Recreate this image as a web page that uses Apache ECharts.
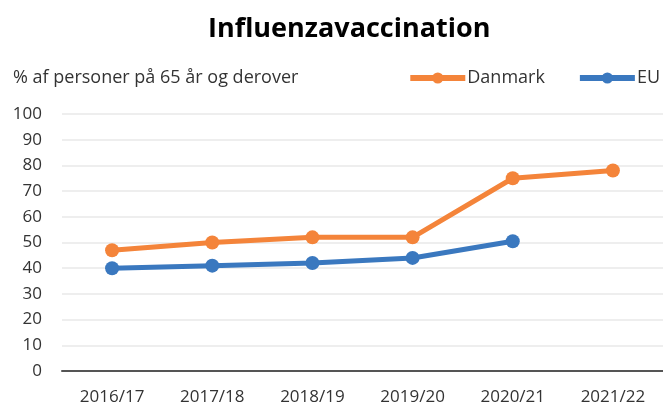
<!DOCTYPE html>
<html>
<head>
<meta charset="utf-8">
<script src="https://cdn.jsdelivr.net/npm/echarts@6/dist/echarts.min.js"></script>
<style>
  html, body { margin: 0; padding: 0; background: #fff; }
  #chart { width: 663px; height: 406px; }
</style>
</head>
<body>
<div id="chart"></div>
<script>
const seasons = ['2016/17', '2017/18', '2018/19', '2019/20', '2020/21', '2021/22'];
const danmark = [47, 50, 52, 52, 75, 78];
const eu = [40, 41, 42, 44, 50.5, null];
const yTicks = { min: 0, max: 100, interval: 10 };

const FONT = '"Open Sans"';

const chart = echarts.init(document.getElementById('chart'));

chart.setOption({
  animation: false,
  textStyle: { fontFamily: FONT },
  title: [
    {
      text: 'Influenzavaccination',
      left: 203,
      top: 11,
      textStyle: { fontFamily: FONT, fontSize: 27, fontWeight: 'bold', color: '#000' },
    },
    {
      text: '% af personer på 65 år og derover',
      left: 8,
      top: 64,
      textStyle: { fontFamily: FONT, fontSize: 18, fontWeight: 'normal', color: '#333' },
    },
  ],
  legend: {
    right: 3,
    top: 69,
    padding: 0,
    itemWidth: 55,
    itemHeight: 14,
    itemGap: 32,
    lineStyle: { width: 6 },
    textStyle: { fontFamily: FONT, fontSize: 18, color: '#333', padding: [0, 0, 0, -3] },
    data: ['Danmark', 'EU'],
  },
  grid: {
    left: 62,
    right: 0,
    top: 114,
    bottom: 35,
    containLabel: false,
  },
  xAxis: {
    type: 'category',
    data: seasons,
    boundaryGap: true,
    axisLine: { lineStyle: { color: '#555', width: 2 } },
    axisTick: { show: false },
    axisLabel: { fontFamily: FONT, fontSize: 17, color: '#333', margin: 18 },
  },
  yAxis: {
    type: 'value',
    min: yTicks.min,
    max: yTicks.max,
    interval: yTicks.interval,
    axisLine: { show: false },
    axisTick: { show: false },
    axisLabel: { fontFamily: FONT, fontSize: 17, color: '#333', margin: 20 },
    splitLine: { lineStyle: { color: '#e8e8e8', width: 1.5 } },
  },
  series: [
    {
      name: 'Danmark',
      type: 'line',
      data: danmark,
      symbol: 'circle',
      symbolSize: 14,
      lineStyle: { width: 5, color: '#F4843A' },
      itemStyle: { color: '#F4843A' },
    },
    {
      name: 'EU',
      type: 'line',
      data: eu,
      symbol: 'circle',
      symbolSize: 14,
      lineStyle: { width: 5, color: '#3A78BF' },
      itemStyle: { color: '#3A78BF' },
    },
  ],
});
</script>
</body>
</html>
